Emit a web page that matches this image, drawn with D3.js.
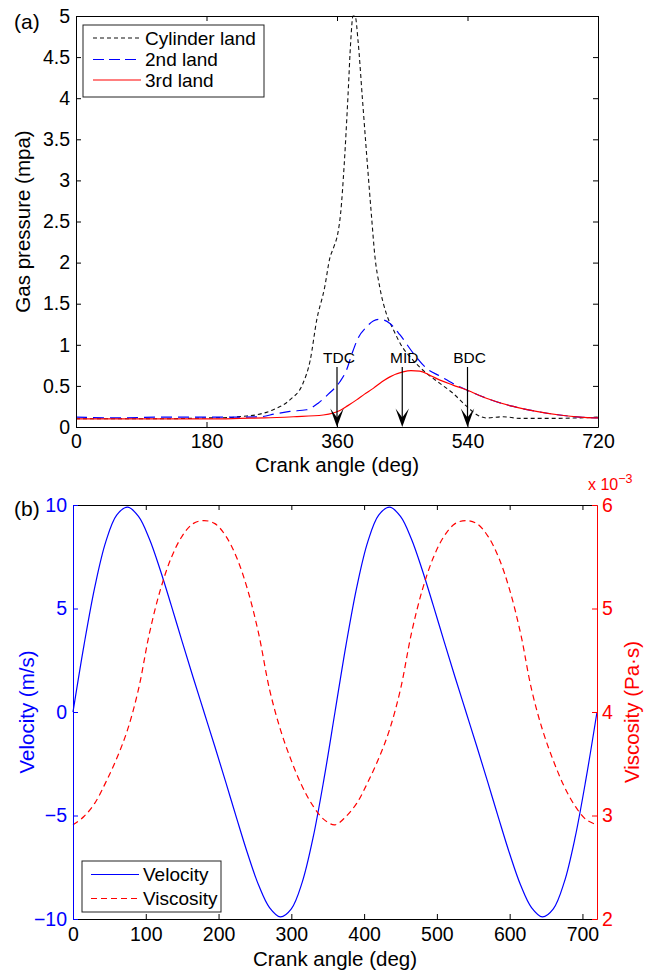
<!DOCTYPE html>
<html>
<head>
<meta charset="utf-8">
<script src="https://cdn.jsdelivr.net/npm/d3@7"></script>
<style>
  body { margin: 0; background: #fff; }
  svg { display: block; font-family: "Liberation Sans", Arial, Helvetica, sans-serif; }
</style>
</head>
<body>
<div id="chart"></div>
<script>
// ---- Panel (a) data: gas pressure (MPa) vs crank angle ----
const cylAngle    = [0, 60, 120, 180, 210, 230, 250, 272, 295, 313, 323, 332, 343, 350, 356, 361, 365, 370, 375, 379, 382, 385, 389, 395, 401, 408, 412, 419, 428, 438, 447, 465, 484, 502, 520, 539, 553, 566, 589, 612, 658, 690, 720];
const cylPressure = [0.10, 0.10, 0.10, 0.11, 0.115, 0.13, 0.15, 0.21, 0.33, 0.53, 0.81, 1.3, 1.7, 2.05, 2.2, 2.35, 2.6, 3.2, 4.0, 4.7, 5.0, 5.0, 4.7, 4.0, 3.3, 2.52, 2.1, 1.7, 1.38, 1.18, 1.02, 0.81, 0.65, 0.53, 0.41, 0.25, 0.15, 0.11, 0.125, 0.105, 0.105, 0.11, 0.12];

const land2Angle    = [0, 60, 120, 180, 220, 254, 275, 295, 318, 334, 348, 364, 373, 381, 389, 401, 410, 419, 433, 447, 465, 484, 502, 520, 539, 566, 603, 635, 667, 695, 720];
const land2Pressure = [0.12, 0.11, 0.12, 0.12, 0.12, 0.125, 0.16, 0.19, 0.21, 0.29, 0.40, 0.55, 0.69, 0.90, 1.08, 1.22, 1.29, 1.31, 1.26, 1.12, 0.90, 0.71, 0.62, 0.53, 0.45, 0.35, 0.25, 0.19, 0.146, 0.12, 0.11];

const land3Angle    = [0, 100, 200, 226, 260, 300, 341, 355, 364, 375, 387, 398, 410, 422, 433, 451, 462, 474, 488, 502, 520, 539, 566, 603, 635, 667, 695, 720];
const land3Pressure = [0.10, 0.10, 0.10, 0.105, 0.11, 0.125, 0.146, 0.17, 0.20, 0.26, 0.33, 0.40, 0.47, 0.55, 0.61, 0.67, 0.685, 0.68, 0.63, 0.57, 0.51, 0.45, 0.35, 0.25, 0.19, 0.146, 0.12, 0.11];

const markerAngle = [360, 450, 540];
const markerLabel = ['TDC', 'MID', 'BDC'];
const markerTop = 0.73;   // pressure level where the arrows start

const pressureTicks = [0, 0.5, 1, 1.5, 2, 2.5, 3, 3.5, 4, 4.5, 5];
const angleTicksA = [0, 180, 360, 540, 720];

// ---- Panel (b) data: velocity (m/s) and viscosity (x1e-3 Pa.s) ----
const bAngle = [0, 15, 30, 45, 60, 75, 90, 105, 120, 135, 150, 165, 180, 195, 210, 225, 240, 255, 270, 285, 300, 315, 330, 345,
                360, 375, 390, 405, 420, 435, 450, 465, 480, 495, 510, 525, 540, 555, 570, 585, 600, 615, 630, 645, 660, 675, 690, 705, 720];
const velocity = [0, 3.21, 6.05, 8.22, 9.51, 9.90, 9.45, 8.36, 6.85, 5.15, 3.40, 1.68, 0, -1.68, -3.40, -5.15, -6.85, -8.36, -9.45, -9.90, -9.51, -8.22, -6.05, -3.21,
                  0, 3.21, 6.05, 8.22, 9.51, 9.90, 9.45, 8.36, 6.85, 5.15, 3.40, 1.68, 0, -1.68, -3.40, -5.15, -6.85, -8.36, -9.45, -9.90, -9.51, -8.22, -6.05, -3.21, 0];
const viscosity = [2.91, 2.99, 3.12, 3.32, 3.55, 3.83, 4.22, 4.76, 5.18, 5.49, 5.70, 5.82, 5.85, 5.82, 5.70, 5.49, 5.18, 4.76, 4.22, 3.83, 3.53, 3.28, 3.09, 2.96,
                   2.91, 2.99, 3.12, 3.32, 3.55, 3.83, 4.22, 4.76, 5.18, 5.49, 5.70, 5.82, 5.85, 5.82, 5.70, 5.49, 5.18, 4.76, 4.22, 3.83, 3.53, 3.28, 3.09, 2.96, 2.91];

const velocityTicks = [-10, -5, 0, 5, 10];
const viscosityTicks = [2, 3, 4, 5, 6];
const angleTicksB = [0, 100, 200, 300, 400, 500, 600, 700];

// Colours / sizes
const BLUE = '#0000ff', RED = '#ff0000', INK = '#000';
const TICK_FS = 19.5, LABEL_FS = 20.5, LEGEND_FS = 19;

const W = 651, H = 973;
const svg = d3.select('#chart').append('svg').attr('width', W).attr('height', H);

const minus = d => d < 0 ? '\u2212' + (-d) : String(d);

// Axis helper
function addAxis(gen, transform, color) {
    const g = svg.append('g').attr('transform', transform).call(gen);
    g.attr('font-size', TICK_FS).attr('font-family', null);
    g.select('.domain').attr('stroke', color).attr('stroke-width', 1);
    g.selectAll('.tick line').attr('stroke', color);
    g.selectAll('.tick text').attr('fill', color);
    return g;
}

function rotLabel(text, cx, cy, color) {
    svg.append('text')
        .attr('transform', `translate(${cx},${cy}) rotate(-90)`)
        .attr('text-anchor', 'middle')
        .attr('dy', '0.35em')
        .attr('font-size', LABEL_FS)
        .attr('fill', color)
        .text(text);
}

function legend(x, y, w, h, rows, lineX0, lineX1, textX) {
    svg.append('rect')
        .attr('x', x).attr('y', y).attr('width', w).attr('height', h)
        .attr('fill', '#fff').attr('stroke', '#222').attr('stroke-width', 1);
    rows.forEach(r => {
        svg.append('line')
            .attr('x1', lineX0).attr('x2', lineX1).attr('y1', r.y).attr('y2', r.y)
            .attr('stroke', r.color).attr('stroke-width', r.width)
            .attr('stroke-dasharray', r.dash);
        svg.append('text')
            .attr('x', textX).attr('y', r.y).attr('dy', '0.35em')
            .attr('font-size', LEGEND_FS).attr('fill', INK)
            .text(r.label);
    });
}

// ================= Panel (a) =================
const a = {left: 76, right: 598, top: 16, bottom: 427};
const xA = d3.scaleLinear().domain([0, 720]).range([a.left, a.right]);
const yA = d3.scaleLinear().domain([0, 5]).range([a.bottom, a.top]);

svg.append('clipPath').attr('id', 'clipA')
    .append('rect').attr('x', a.left).attr('y', a.top - 1)
    .attr('width', a.right - a.left).attr('height', a.bottom - a.top + 1);

const lineA = d3.line().x(d => xA(d[0])).y(d => yA(d[1])).curve(d3.curveMonotoneX);
const seriesA = [
    {angle: cylAngle, value: cylPressure, color: '#111', dash: '4,3', width: 1.1},
    {angle: land2Angle, value: land2Pressure, color: BLUE, dash: '11,6', width: 1.2},
    {angle: land3Angle, value: land3Pressure, color: RED, dash: null, width: 1.2}
];
const gA = svg.append('g').attr('clip-path', 'url(#clipA)');
seriesA.forEach(s => {
    gA.append('path')
        .datum(d3.zip(s.angle, s.value))
        .attr('d', lineA)
        .attr('fill', 'none')
        .attr('stroke', s.color)
        .attr('stroke-width', s.width)
        .attr('stroke-dasharray', s.dash);
});

addAxis(d3.axisBottom(xA).tickValues(angleTicksA).tickSizeInner(-5).tickSizeOuter(0).tickPadding(7),
    `translate(0,${a.bottom})`, INK);
addAxis(d3.axisTop(xA).tickValues(angleTicksA).tickSizeInner(-5).tickSizeOuter(0).tickFormat(''),
    `translate(0,${a.top})`, INK);
addAxis(d3.axisLeft(yA).tickValues(pressureTicks).tickSizeInner(-5).tickSizeOuter(0).tickPadding(6).tickFormat(d => String(d)),
    `translate(${a.left},0)`, INK);
addAxis(d3.axisRight(yA).tickValues(pressureTicks).tickSizeInner(-5).tickSizeOuter(0).tickFormat(''),
    `translate(${a.right},0)`, INK);

// TDC / MID / BDC arrows
markerAngle.forEach((ang, i) => {
    const x = xA(ang), yTop = yA(markerTop), yTip = yA(0);
    svg.append('line')
        .attr('x1', x).attr('x2', x).attr('y1', yTop).attr('y2', yTip - 8)
        .attr('stroke', INK).attr('stroke-width', 1.2);
    svg.append('path')
        .attr('d', `M${x},${yTip} L${x - 6.7},${yTip - 18.5} L${x},${yTip - 9.5} L${x + 6.7},${yTip - 18.5} Z`)
        .attr('fill', INK);
    svg.append('text')
        .attr('x', x + 2).attr('y', yTop - 4)
        .attr('text-anchor', 'middle')
        .attr('font-size', 15.5)
        .attr('fill', INK)
        .text(markerLabel[i]);
});

legend(83, 25, 181, 72, [
    {y: 38, color: '#111', dash: '4,3', width: 1.1, label: 'Cylinder land'},
    {y: 59.5, color: BLUE, dash: '11,5', width: 1.2, label: '2nd land'},
    {y: 80, color: RED, dash: null, width: 1.2, label: '3rd land'}
], 93, 141, 145);

svg.append('text').attr('x', 14).attr('y', 29).attr('font-size', 21).attr('fill', INK).text('(a)');
rotLabel('Gas pressure (mpa)', 23, (a.top + a.bottom) / 2, INK);
svg.append('text').attr('x', (a.left + a.right) / 2).attr('y', 472)
    .attr('text-anchor', 'middle').attr('font-size', LABEL_FS).attr('fill', INK)
    .text('Crank angle (deg)');

// ================= Panel (b) =================
const b = {left: 73, right: 597, top: 505, bottom: 919};
const xB = d3.scaleLinear().domain([0, 720]).range([b.left, b.right]);
const yVel = d3.scaleLinear().domain([-10, 10]).range([b.bottom, b.top]);
const yVis = d3.scaleLinear().domain([2, 6]).range([b.bottom, b.top]);

const velLine = d3.line().x((d, i) => xB(bAngle[i])).y(d => yVel(d)).curve(d3.curveCatmullRom);
const visLine = d3.line().x((d, i) => xB(bAngle[i])).y(d => yVis(d)).curve(d3.curveCatmullRom);

svg.append('path').datum(velocity).attr('d', velLine)
    .attr('fill', 'none').attr('stroke', BLUE).attr('stroke-width', 1.2);
svg.append('path').datum(viscosity).attr('d', visLine)
    .attr('fill', 'none').attr('stroke', RED).attr('stroke-width', 1.2)
    .attr('stroke-dasharray', '6,4');

addAxis(d3.axisBottom(xB).tickValues(angleTicksB).tickSizeInner(-5).tickSizeOuter(0).tickPadding(8),
    `translate(0,${b.bottom})`, INK);
addAxis(d3.axisTop(xB).tickValues(angleTicksB).tickSizeInner(-5).tickSizeOuter(0).tickFormat(''),
    `translate(0,${b.top})`, INK);
addAxis(d3.axisLeft(yVel).tickValues(velocityTicks).tickSizeInner(-5).tickSizeOuter(0).tickPadding(6).tickFormat(minus),
    `translate(${b.left},0)`, BLUE);
addAxis(d3.axisRight(yVis).tickValues(viscosityTicks).tickSizeInner(-5).tickSizeOuter(0).tickPadding(5).tickFormat(d => String(d)),
    `translate(${b.right},0)`, RED);

// exponent label on the right axis
const expo = svg.append('text').attr('x', 588).attr('y', 490).attr('font-size', 16).attr('fill', RED);
expo.append('tspan').text('x 10');
expo.append('tspan').attr('dy', -7).attr('font-size', 12.5).text('\u22123');

legend(82, 861, 139, 51, [
    {y: 874.5, color: BLUE, dash: null, width: 1.2, label: 'Velocity'},
    {y: 898.5, color: RED, dash: '6,4', width: 1.2, label: 'Viscosity'}
], 91, 139, 143);

svg.append('text').attr('x', 14).attr('y', 516).attr('font-size', 21).attr('fill', INK).text('(b)');
rotLabel('Velocity (m/s)', 27, (b.top + b.bottom) / 2, BLUE);
rotLabel('Viscosity (Pa\u00b7s)', 632, (b.top + b.bottom) / 2, RED);
svg.append('text').attr('x', (b.left + b.right) / 2).attr('y', 966)
    .attr('text-anchor', 'middle').attr('font-size', LABEL_FS).attr('fill', INK)
    .text('Crank angle (deg)');
</script>
</body>
</html>
